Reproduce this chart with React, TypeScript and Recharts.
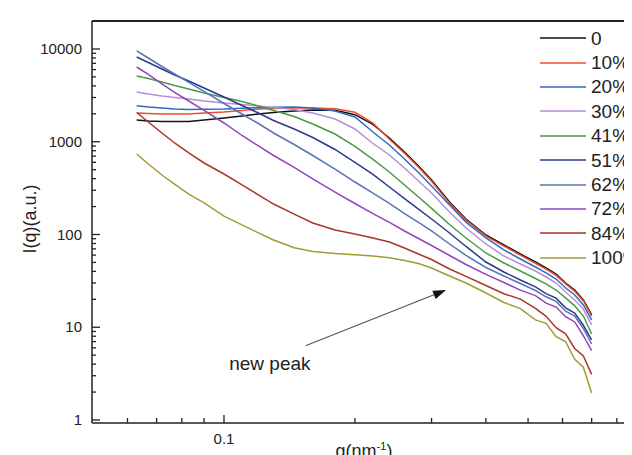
import React from "react";
import { LineChart, Line, XAxis, YAxis, Legend, ReferenceLine } from "recharts";

// scattering vector q (nm^-1)
const q = [
  0.063, 0.067, 0.072, 0.077, 0.083, 0.09, 0.1, 0.11, 0.12, 0.13, 0.145, 0.16,
  0.18, 0.2, 0.22, 0.24, 0.26, 0.28, 0.3, 0.33, 0.36, 0.4, 0.44, 0.48, 0.52,
  0.55, 0.58, 0.61, 0.64, 0.67, 0.7,
];

// intensities I(q), one array per composition
const i0 = [1716, 1674, 1653, 1653, 1653, 1716, 1804, 1895, 1992, 2068, 2146, 2200, 2180, 1960, 1540, 1098, 775, 548, 387, 224, 147, 98.8, 77.1, 61.6, 50.5, 43.5, 37.5, 30.0, 25.2, 19.7, 13.6];
const i10 = [2043, 2017, 1992, 1992, 1992, 2043, 2094, 2173, 2255, 2284, 2312, 2312, 2270, 2080, 1590, 1065, 752, 532, 375, 217, 143, 96, 75, 60, 49, 42.3, 36.2, 29.4, 24.4, 19.2, 13.2];
const i20 = [2448, 2370, 2312, 2255, 2227, 2239, 2255, 2295, 2330, 2359, 2370, 2312, 2146, 1849, 1274, 923, 652, 466, 333, 208, 136, 91.7, 68.1, 54.4, 44.6, 38.5, 33.1, 26.5, 22.3, 17.4, 12.0];
const i30 = [3440, 3273, 3115, 3001, 2891, 2751, 2618, 2522, 2429, 2341, 2227, 2043, 1760, 1373, 957, 720, 521, 377, 280, 175, 117.5, 79.0, 58.6, 48.1, 40.4, 34.8, 30.0, 24.0, 19.7, 15.7, 10.6];
const i41 = [5117, 4808, 4410, 4043, 3706, 3356, 3001, 2717, 2429, 2173, 1872, 1554, 1212, 889, 644, 472, 342, 254, 191, 128, 91.7, 63.2, 49.3, 40.4, 33.5, 29.3, 25.2, 20.7, 17.0, 13.2, 8.46];
const i51 = [8201, 7155, 6088, 5246, 4520, 3798, 3038, 2460, 2043, 1695, 1373, 1112, 825, 598, 444, 325, 244, 188, 147, 103.8, 74.3, 50.5, 39.4, 32.3, 27.2, 23.0, 20.6, 16.2, 14.2, 10.5, 7.3];
const i62 = [9520, 8001, 6478, 5377, 4356, 3484, 2585, 1992, 1573, 1243, 934, 711, 508, 368, 280, 216, 168, 135, 109.1, 79.0, 59.4, 44.1, 35.7, 29.6, 24.9, 21.3, 19.0, 14.9, 13.2, 9.7, 6.6];
const i72 = [6397, 5311, 4197, 3397, 2751, 2173, 1593, 1168, 900, 711, 528, 397, 287, 216, 168, 135, 109.1, 90.6, 76.1, 59.4, 47.5, 37.1, 30.4, 25.1, 21.9, 18.2, 16.5, 13.0, 11.4, 8.1, 5.6];
const i84 = [2068, 1633, 1243, 970, 757, 590, 449, 342, 267, 213, 166, 133, 112, 101.3, 91.7, 83.0, 71.5, 61.6, 53.8, 42.5, 35.3, 28.2, 23.0, 20.1, 16.0, 13.1, 9.9, 8.5, 5.9, 4.9, 3.1];
const i100 = [738, 576, 438, 350, 273, 219, 158, 127, 104, 87.3, 72, 65.6, 62.4, 60.6, 58.6, 56, 52.5, 48.7, 43.5, 35.7, 30.0, 23.4, 18.5, 15.9, 12.0, 11.0, 7.9, 7.0, 4.5, 3.7, 1.95];

const labels = ["0", "10%", "20%", "30%", "41%", "51%", "62%", "72%", "84%", "100%"];
const values = [i0, i10, i20, i30, i41, i51, i62, i72, i84, i100];
const colors = ["#111111", "#ef4f2e", "#2d6cc2", "#b48fd8", "#4c9a45", "#2c3a8e", "#5874b5", "#9244c2", "#aa3529", "#a29b35"];

const xTicks = [0.06, 0.07, 0.08, 0.09, 0.1, 0.2, 0.3, 0.4, 0.5, 0.6, 0.7, 0.8];
const xMajor = [0.1];
const yMajor = [1, 10, 100, 1000, 10000];
const yTicks = [1, 2, 3, 4, 5, 6, 7, 8, 9, 10, 20, 30, 40, 50, 60, 70, 80, 90, 100, 200, 300, 400, 500, 600, 700, 800, 900, 1000, 2000, 3000, 4000, 5000, 6000, 7000, 8000, 9000, 10000];

// "new peak" arrow: tail and head in data units
const arrowTail = { q: 0.154, i: 6.3 };
const arrowHead = { q: 0.324, i: 25.2 };

const xDomain = [0.04973, 0.8853];
const yDomain = [0.928, 20040];
const MARGIN = { top: 13, right: 4, bottom: 0, left: 0 };

const FONT = "'Liberation Sans', Arial, sans-serif";
const INK = "#222";

const data = q.map((qq, i) => {
  const row: Record<string, number> = { q: qq };
  values.forEach((v, k) => {
    row["s" + k] = v[i];
  });
  return row;
});

function XTick({ x, y, payload }: any) {
  const major = xMajor.includes(payload.value);
  const y0 = y - 16;
  return (
    <g>
      <line x1={x} x2={x} y1={y0} y2={y0 - (major ? 8 : 5)} stroke={INK} strokeWidth={1.3} />
      {major && (
        <text x={x} y={y} dy="0.35em" textAnchor="middle" fontSize={15} fontFamily={FONT} fill={INK}>
          {payload.value}
        </text>
      )}
    </g>
  );
}

function YTick({ x, y, payload }: any) {
  const major = yMajor.includes(payload.value);
  const x0 = x + 10;
  return (
    <g>
      <line x1={x0} x2={x0 + (major ? 8 : 4)} y1={y} y2={y} stroke={INK} strokeWidth={1.3} />
      {major && (
        <text x={x} y={y} dy="0.35em" textAnchor="end" fontSize={15} fontFamily={FONT} fill={INK}>
          {payload.value}
        </text>
      )}
    </g>
  );
}

function XTitle({ viewBox }: any) {
  const vb = viewBox ?? { x: 84, y: 415, width: 544, height: 40 };
  return (
    <text x={vb.x + vb.width / 2} y={vb.y + 34} textAnchor="middle" fontSize={18} fontFamily={FONT} fill={INK}>
      q(nm
      <tspan dy={-7} fontSize={11}>-1</tspan>
      <tspan dy={7}>)</tspan>
    </text>
  );
}

function YTitle({ viewBox }: any) {
  const vb = viewBox ?? { x: 0, y: 13, width: 84, height: 402 };
  const cx = 22;
  const cy = vb.y + vb.height / 2 - 3;
  return (
    <text x={cx} y={cy} dy="0.35em" textAnchor="middle" fontSize={18} fontFamily={FONT} fill={INK} transform={`rotate(-90, ${cx}, ${cy})`}>
      I(q)(a.u.)
    </text>
  );
}

function ArrowShape({ x1, y1, x2, y2 }: any) {
  const ang = Math.atan2(y2 - y1, x2 - x1);
  const len = 13;
  const half = 4.5;
  const bx = x2 - len * Math.cos(ang);
  const by = y2 - len * Math.sin(ang);
  const px = -Math.sin(ang) * half;
  const py = Math.cos(ang) * half;
  return (
    <g>
      <line x1={x1} y1={y1} x2={bx} y2={by} stroke="#555" strokeWidth={1.1} />
      <polygon points={`${x2},${y2} ${bx + px},${by + py} ${bx - px},${by - py}`} fill="#111" />
      <text x={x1 + 5} y={y1 + 24} textAnchor="end" fontSize={19} fontFamily={FONT} fill={INK}>
        new peak
      </text>
    </g>
  );
}

function LegendBox() {
  return (
    <div style={{ fontFamily: FONT, fontSize: 19, color: INK }}>
      {labels.map((name, k) => (
        <div key={name} style={{ display: "flex", alignItems: "center", height: 24.4 }}>
          <svg width={46} height={4} style={{ display: "block" }}>
            <line x1={0} x2={46} y1={2} y2={2} stroke={colors[k]} strokeWidth={1.6} />
          </svg>
          <span style={{ marginLeft: 5, lineHeight: 1 }}>{name}</span>
        </div>
      ))}
    </div>
  );
}

export default function App() {
  const axisLine = { stroke: INK, strokeWidth: 1.5 };
  const plotLeft = MARGIN.left + 84;
  const plotRight = 632 - MARGIN.right;
  const plotBottom = 455 - MARGIN.bottom - 40;

  return (
    <div style={{ position: "relative", width: 632, height: 455, background: "#fff", fontFamily: FONT }}>
      <LineChart width={632} height={455} data={data} margin={MARGIN}>
        <XAxis
          dataKey="q"
          type="number"
          scale="log"
          domain={xDomain}
          allowDataOverflow
          ticks={xTicks}
          interval={0}
          tickSize={0}
          tickMargin={16}
          tickLine={false}
          tick={<XTick />}
          axisLine={axisLine}
          height={40}
          label={<XTitle />}
        />
        <YAxis
          type="number"
          scale="log"
          domain={yDomain}
          allowDataOverflow
          ticks={yTicks}
          interval={0}
          tickSize={0}
          tickMargin={10}
          tickLine={false}
          tick={<YTick />}
          axisLine={axisLine}
          width={84}
          label={<YTitle />}
        />
        {labels.map((name, k) => (
          <Line
            key={name}
            dataKey={"s" + k}
            name={name}
            stroke={colors[k]}
            strokeWidth={1.5}
            dot={false}
            type="linear"
            isAnimationActive={false}
          />
        ))}
        <ReferenceLine
          segment={[
            { x: arrowTail.q, y: arrowTail.i },
            { x: arrowHead.q, y: arrowHead.i },
          ]}
          shape={(p: any) => <ArrowShape {...p} />}
        />
        <Legend
          layout="vertical"
          align="center"
          verticalAlign="middle"
          content={() => <LegendBox />}
          wrapperStyle={{ left: 532, top: 18, width: 100 }}
        />
      </LineChart>
      {/* top and right edges of the plot frame, on a separate overlay */}
      <svg
        width={632}
        height={455}
        style={{ position: "absolute", left: 0, top: 0, zIndex: 5, pointerEvents: "none" }}
      >
        <path
          d={`M${plotLeft},${MARGIN.top} H${plotRight} V${plotBottom}`}
          fill="none"
          stroke={INK}
          strokeWidth={2}
        />
      </svg>
    </div>
  );
}
